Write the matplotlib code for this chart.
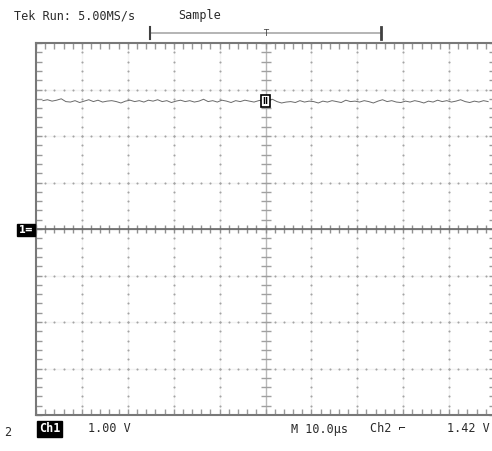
import numpy as np
import matplotlib.pyplot as plt

# scope settings: 10 us/div horizontally, trace values in divisions
TIME_PER_DIV = 10.0
CH2_T0 = -48.5   # first ch2 sample (us)
CH2_DT = 1.0     # ch2 sample spacing (us)

ch2_div = [
    2.76, 2.78, 2.75, 2.77, 2.80, 2.74, 2.73, 2.76, 2.72, 2.75,
    2.78, 2.74, 2.77, 2.73, 2.75, 2.76, 2.74, 2.71, 2.75, 2.77,
    2.74, 2.76, 2.73, 2.77, 2.75, 2.78, 2.74, 2.76, 2.72, 2.75,
    2.77, 2.74, 2.76, 2.73, 2.75, 2.79, 2.74, 2.76, 2.73, 2.77,
    2.75, 2.72, 2.76, 2.74, 2.77, 2.75, 2.73, 2.76, 2.78, 2.75,
    2.79, 2.74, 2.71, 2.73, 2.74, 2.72, 2.76, 2.73, 2.75, 2.74,
    2.71, 2.75, 2.73, 2.76, 2.74, 2.72, 2.77, 2.74, 2.75, 2.73,
    2.76, 2.74, 2.71, 2.75, 2.78, 2.74, 2.76, 2.73, 2.72, 2.75,
    2.73, 2.76, 2.74, 2.71, 2.75, 2.73, 2.77, 2.74, 2.76, 2.73,
    2.75, 2.78, 2.74, 2.72, 2.75, 2.73, 2.76, 2.74,
]
ch1_time = [-50, -40, -30, -20, -10, 0, 10, 20, 30, 40, 50]
ch1_div = [0.0, 0.0, 0.0, 0.0, 0.0, 0.0, 0.0, 0.0, 0.0, 0.0, 0.0]

header_left = "Tek Run: 5.00MS/s"
header_mode = "Sample"
footer = ["Ch1", "1.00 V", "M 10.0\u00b5s", "Ch2 \u2310", "1.42 V"]

SCOPE_FONT = dict(family="DejaVu Sans Mono", fontsize=8.5, color="#2a2a2a")

fig = plt.figure(figsize=(4.92, 4.51), dpi=100)
# plot area runs a little past the right edge of the picture
ax = fig.add_axes([36 / 492, 36 / 451, 459 / 492, 372 / 451])
ax.set_xlim(-5 * TIME_PER_DIV, 5 * TIME_PER_DIV)
ax.set_ylim(-4, 4)

# graticule: faint lines + dots every 0.2 div
for gx in np.arange(-40, 41, 10):
    if gx == 0:
        continue
    ax.axvline(gx, color="#f3f3f3", lw=1, zorder=0)
    ys = np.arange(-4, 4.01, 0.2)
    ax.plot(np.full_like(ys, gx), ys, ls="none", marker="o", ms=1.5,
            mew=0, color="#a4a4a4", zorder=1)
for gy in np.arange(-3, 4, 1):
    if gy == 0:
        continue
    ax.axhline(gy, color="#f3f3f3", lw=1, zorder=0)
    xs = np.arange(-50, 50.1, 2)
    ax.plot(xs, np.full_like(xs, gy), ls="none", marker="o", ms=1.5,
            mew=0, color="#a4a4a4", zorder=1)

# centre cross with small ticks
ax.axhline(0, color="#b0b0b0", lw=1, zorder=1)
ax.axvline(0, color="#b8b8b8", lw=1, zorder=1)
xs = np.arange(-50, 50.1, 2)
ax.plot(xs, np.zeros_like(xs), ls="none", marker="|", ms=6,
        mew=1, color="#909090", zorder=1)
ys = np.arange(-4, 4.01, 0.2)
ax.plot(np.zeros_like(ys), ys, ls="none", marker="_", ms=7,
        mew=1, color="#a0a0a0", zorder=1)

# frame ticks
ax.set_xticks(np.arange(-50, 50.1, 2))
ax.set_yticks(np.arange(-4, 4.01, 0.2))
ax.tick_params(direction="in", length=4, width=1, color="#999999",
               top=True, right=True, labelbottom=False, labelleft=False)
for s in ax.spines.values():
    s.set_color("#787878")
    s.set_linewidth(1.5)

# traces
ch2_time = [CH2_T0 + i * CH2_DT for i in range(len(ch2_div))]
ax.plot(ch2_time, ch2_div, color="#6a6a6a", lw=0.7, zorder=3)
ax.plot(ch1_time, ch1_div, color="#686868", lw=1.2, zorder=3)

# level marker on ch2 at centre
ax.text(0, 2.75, "II", fontsize=6, fontweight="bold", ha="center",
        va="center", color="black", zorder=4,
        bbox=dict(boxstyle="square,pad=0.2", fc="white", ec="black", lw=1.2))

# ch1 ground marker at the left
fig.text(26 / 492, 1 - 230 / 451, "1=", fontsize=7, fontweight="bold",
         color="white", ha="center", va="center",
         bbox=dict(boxstyle="square,pad=0.15", fc="black", ec="black"))

# record window bracket above the graticule
yb = 4 + 10 / 46.5
ax.plot([-25.2, 25.2], [yb, yb], color="#a8a8a8", lw=1.2, clip_on=False)
ax.plot([-25.2, -25.2], [yb - 0.12, yb + 0.12], color="#404040", lw=1.5,
        clip_on=False)
ax.plot([25.2, 25.2], [yb - 0.12, yb + 0.12], color="#404040", lw=2,
        clip_on=False)
ax.text(0, yb, "T", fontsize=6, ha="center", va="center", color="#404040",
        clip_on=False)

# header and footer text
fig.text(14 / 492, 1 - 16 / 451, header_left, va="center", **SCOPE_FONT)
fig.text(178 / 492, 1 - 16 / 451, header_mode, va="center", **SCOPE_FONT)

yf = 1 - 429 / 451
fig.text(4 / 492, 1 - 433 / 451, "2", va="center", **SCOPE_FONT)
fig.text(39 / 492, yf, footer[0], va="center", fontweight="bold",
         family="DejaVu Sans Mono", fontsize=8.5, color="white",
         bbox=dict(boxstyle="square,pad=0.15", fc="black", ec="black"))
fig.text(88 / 492, yf, footer[1], va="center", **SCOPE_FONT)
fig.text(291 / 492, yf, footer[2], va="center", **SCOPE_FONT)
fig.text(370 / 492, yf, footer[3], va="center", **SCOPE_FONT)
fig.text(447 / 492, yf, footer[4], va="center", **SCOPE_FONT)

fig.savefig("out.png", dpi=100)
